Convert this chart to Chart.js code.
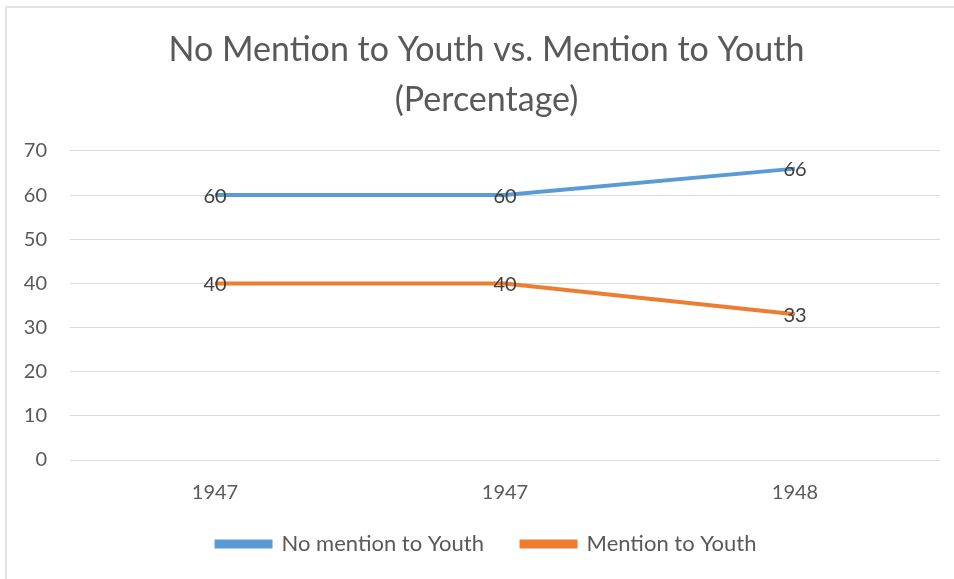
<!DOCTYPE html>
<html>
<head>
<meta charset="utf-8">
<script src="https://cdn.jsdelivr.net/npm/chart.js@4.4.1/dist/chart.umd.min.js"></script>
<style>
  html, body { margin: 0; padding: 0; background: #fff; overflow: hidden; }
  #wrap { position: absolute; left: 5px; top: 6px; width: 961px; height: 590px; box-sizing: border-box;
          border-left: 2px solid #e3e3e3; border-top: 2px solid #e3e3e3; }
</style>
</head>
<body>
<div id="wrap"><canvas id="lineChart"></canvas></div>
<script>
var years = ['1947', '1947', '1948'];
var noMention = [60, 60, 66];
var mention = [40, 40, 33];
var yTicks = [0, 10, 20, 30, 40, 50, 60, 70];

var FONT = 'Lato, "Open Sans", sans-serif';

// draws the value on top of every point, like the Excel labels
var pointLabels = {
    id: 'pointLabels',
    afterDatasetsDraw: function(chart) {
        var c = chart.ctx;
        c.save();
        c.font = '20px ' + FONT;
        c.fillStyle = '#404040';
        c.textAlign = 'center';
        c.textBaseline = 'middle';
        chart.data.datasets.forEach(function(ds, i) {
            chart.getDatasetMeta(i).data.forEach(function(pt, j) {
                c.fillText(ds.data[j], pt.x, pt.y + 1);
            });
        });
        c.restore();
    }
};

var ctx = document.getElementById('lineChart').getContext('2d');
var lineChart = new Chart(ctx, {
    type: 'line',
    data: {
        labels: years,
        datasets: [{
            label: 'No mention to Youth',
            data: noMention,
            borderColor: '#5b9bd5',
            backgroundColor: '#5b9bd5',
            borderWidth: 4,
            pointRadius: 0,
            fill: false
        }, {
            label: 'Mention to Youth',
            data: mention,
            borderColor: '#ed7d31',
            backgroundColor: '#ed7d31',
            borderWidth: 4,
            pointRadius: 0,
            fill: false
        }]
    },
    options: {
        responsive: true,
        maintainAspectRatio: false,
        animation: false,
        layout: { padding: { left: 0, right: 0, top: 0, bottom: 31 } },
        plugins: {
            title: {
                display: true,
                text: ['No Mention to Youth vs. Mention to Youth', '(Percentage)'],
                color: '#595959',
                font: { family: FONT, size: 34, weight: 'normal', lineHeight: 1.47 },
                padding: { top: 17, bottom: 26 }
            },
            legend: {
                position: 'bottom',
                labels: {
                    color: '#595959',
                    font: { family: FONT, size: 22 },
                    boxWidth: 54,
                    boxHeight: 5,
                    padding: 15,
                    // extra room after the first entry, Excel spaces them wider
                    generateLabels: function(chart) {
                        var items = Chart.defaults.plugins.legend.labels.generateLabels(chart);
                        items.forEach(function(it, i) {
                            if (i < items.length - 1) it.text = it.text + '    ';
                        });
                        return items;
                    }
                }
            },
            tooltip: { enabled: false }
        },
        scales: {
            x: {
                offset: true,
                grid: { display: false },
                border: { display: false },
                ticks: { color: '#595959', font: { family: FONT, size: 20 }, padding: 13 }
            },
            y: {
                min: 0,
                max: 70,
                afterBuildTicks: function(axis) {
                    axis.ticks = yTicks.map(function(v) { return { value: v }; });
                },
                afterFit: function(axis) { axis.width = 63; },
                grid: { color: '#d9d9d9', lineWidth: 1, drawTicks: false },
                border: { display: false },
                ticks: { color: '#595959', font: { family: FONT, size: 20 }, padding: 23 }
            },
            // empty axis on the right, only to keep the plot narrower than the title box
            yRight: {
                position: 'right',
                min: 0,
                max: 70,
                afterFit: function(axis) { axis.width = 26; },
                grid: { display: false },
                border: { display: false },
                ticks: { display: false }
            }
        }
    },
    plugins: [pointLabels]
});
</script>
</body>
</html>
